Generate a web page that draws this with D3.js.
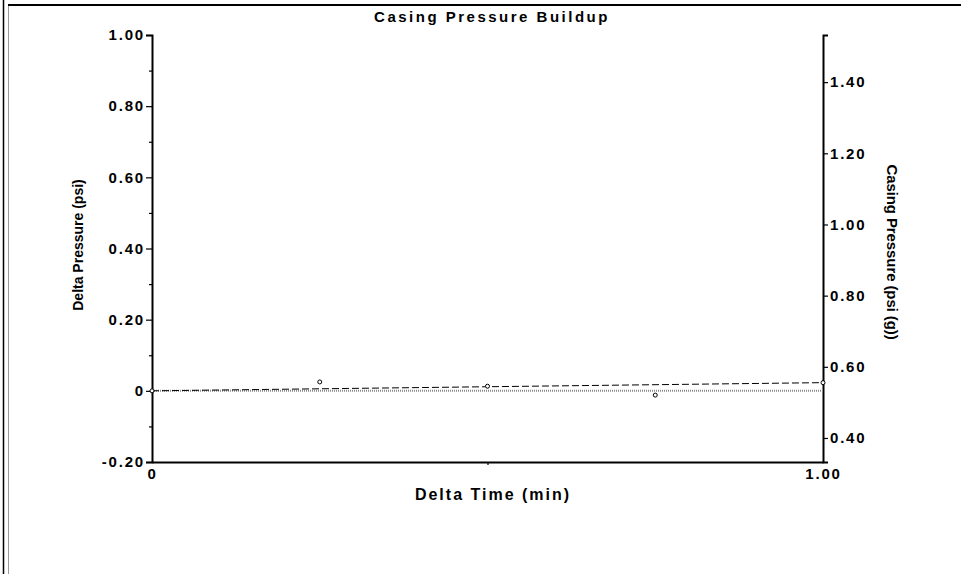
<!DOCTYPE html>
<html><head><meta charset="utf-8">
<script src="https://cdn.jsdelivr.net/npm/d3@7"></script>
<style>
html,body{margin:0;padding:0;background:#fff;}
svg{display:block;font-family:"Liberation Sans",Arial,sans-serif;}
</style></head>
<body><svg id="c" width="961" height="574"></svg>
<script>
const title = "Casing Pressure Buildup";
const xTitle = "Delta Time (min)";
const yTitle = "Delta Pressure (psi)";
const y2Title = "Casing Pressure (psi (g))";
const times = [0, 0.25, 0.5, 0.75, 1.0];
const deltaP = [0, 0.025, 0.013, -0.012, 0.023];
const trendX = [0, 1.0];
const trendY = [0, 0.023];
const baselineY = [0, 0];
const xDomain = [0, 1.0];
const yDomain = [-0.20, 1.00];
const y2Domain = [0.3325, 1.5325];
const yTicks = [-0.20, 0, 0.20, 0.40, 0.60, 0.80, 1.00];
const yMinor = [-0.10, 0.10, 0.30, 0.50, 0.70, 0.90];
const y2Ticks = [0.40, 0.60, 0.80, 1.00, 1.20, 1.40];
const xTicks = [0, 1.0];
const xMinor = [0.5];

const svg = d3.select("#c");
const L = 152, R = 823, T = 35, B = 462;
const x = d3.scaleLinear().domain(xDomain).range([L, R]);
const y = d3.scaleLinear().domain(yDomain).range([B, T]);
const y2 = d3.scaleLinear().domain(y2Domain).range([B, T]);

// frame
svg.append("line").attr("x1",3.5).attr("x2",3.5).attr("y1",0).attr("y2",574).attr("stroke","#000").attr("stroke-width",1.5);
svg.append("line").attr("x1",8.5).attr("x2",8.5).attr("y1",6).attr("y2",574).attr("stroke","#999").attr("stroke-width",1);
svg.append("line").attr("x1",8).attr("x2",961).attr("y1",5).attr("y2",5).attr("stroke","#000").attr("stroke-width",2);

const fmt = v => v === 0 ? "0" : d3.format(".2f")(v).replace("\u2212","-");

// left axis
svg.append("g").attr("transform",`translate(${L},0)`)
  .call(d3.axisLeft(y).tickValues(yTicks).tickFormat(fmt).tickSizeOuter(0).tickSize(6).tickPadding(1));
svg.append("g").attr("transform",`translate(${L},0)`)
  .call(d3.axisLeft(y).tickValues(yMinor).tickFormat("").tickSizeOuter(0).tickSize(3))
  .call(g=>g.select(".domain").remove());
// right axis
svg.append("g").attr("transform",`translate(${R},0)`)
  .call(d3.axisRight(y2).tickValues(y2Ticks).tickFormat(fmt).tickSizeOuter(0).tickSize(5).tickPadding(2));
// bottom axis
const gb = svg.append("g").attr("transform",`translate(0,${B})`)
  .call(d3.axisBottom(x).tickValues(xTicks).tickFormat(fmt).tickSizeOuter(0).tickSize(0).tickPadding(3));
svg.append("g").attr("transform",`translate(0,${B})`)
  .call(d3.axisBottom(x).tickValues(xMinor).tickFormat("").tickSizeOuter(0).tickSize(3))
  .call(g=>g.select(".domain").remove());

svg.selectAll(".domain").attr("stroke","#000").attr("stroke-width",2);
svg.selectAll(".tick line").attr("stroke","#000").attr("stroke-width",1.2);
svg.selectAll(".tick text").attr("fill","#000").style("font-size","15px").style("font-weight","bold")
  .style("letter-spacing","1.8px").style("font-family","'Liberation Sans',Arial,sans-serif");
gb.selectAll(".tick text").attr("dy","0.95em");

// baseline (gray)
const line = d3.line().x(d=>x(d[0])).y(d=>y(d[1]));
svg.append("path").attr("d", line(trendX.map((t,i)=>[t, baselineY[i]])))
  .attr("fill","none").attr("stroke","#8a8a8a").attr("stroke-width",2).attr("stroke-dasharray","1,1");
// trend dashed
svg.append("path").attr("d", line(trendX.map((t,i)=>[t, trendY[i]])))
  .attr("fill","none").attr("stroke","#000").attr("stroke-width",1).attr("stroke-dasharray","7,3");
// points
svg.selectAll("circle.pt").data(times.map((t,i)=>[t, deltaP[i]])).enter().append("circle")
  .attr("class","pt").attr("cx",d=>x(d[0])).attr("cy",d=>y(d[1])).attr("r",2)
  .attr("fill","#fff").attr("stroke","#000").attr("stroke-width",1);

// titles
svg.append("text").attr("x",492).attr("y",22).attr("text-anchor","middle")
  .style("font-size","15px").style("font-weight","bold").style("letter-spacing","2.5px").text(title);
svg.append("text").attr("x",493).attr("y",500).attr("text-anchor","middle")
  .style("font-size","16px").style("font-weight","bold").style("letter-spacing","2px").text(xTitle);
svg.append("text").attr("transform",`translate(83,245) rotate(-90)`).attr("text-anchor","middle")
  .style("font-size","14px").style("font-weight","bold").style("letter-spacing","0px").text(yTitle);
svg.append("text").attr("transform",`translate(887,252) rotate(90)`).attr("text-anchor","middle")
  .style("font-size","15px").style("font-weight","bold").style("letter-spacing","-0.1px").text(y2Title);
</script></body></html>
